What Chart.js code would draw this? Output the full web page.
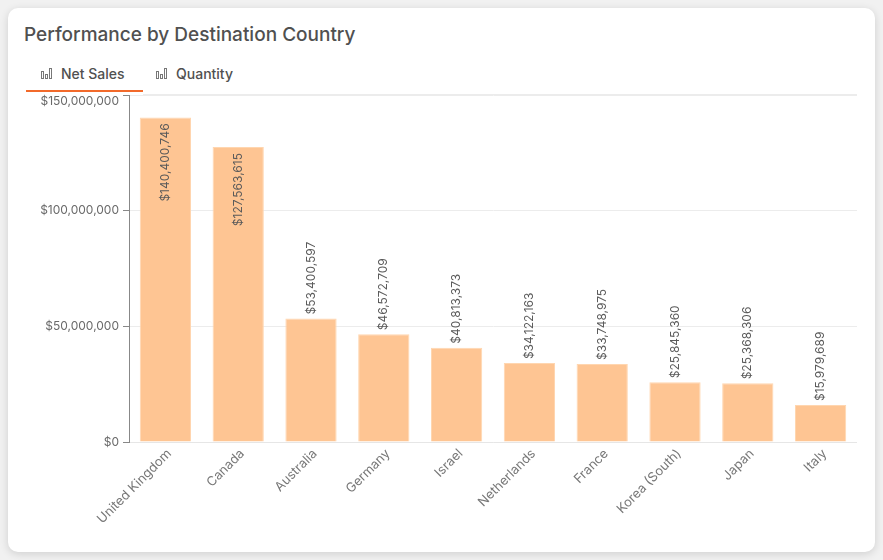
<!DOCTYPE html>
<html>
<head>
<meta charset="utf-8">
<script src="https://cdn.jsdelivr.net/npm/chart.js@4.4.0/dist/chart.umd.min.js"></script>
<style>
  body { margin: 0; background: #f1f1f1; font-family: 'Inter', 'Noto Sans', sans-serif; }
  #card {
    position: absolute; left: 8px; top: 8px; width: 867px; height: 544px;
    background: #fff; border-radius: 10px; box-shadow: 0 2px 8px rgba(0,0,0,0.14);
  }
  #title { position: absolute; left: 16px; top: 15px; font-size: 19px; font-weight: 500; color: #505050; }
  .tab { position: absolute; top: 57px; font-size: 14px; font-weight: 500; color: #505050; display: flex; align-items: center; }
  .tab svg { margin-right: 8px; }
  #tab1 { left: 33px; }
  #tab2 { left: 148px; }
  #underline { position: absolute; left: 18px; top: 82px; width: 117px; height: 2px; background: #f26a2b; }
  #sep { position: absolute; left: 135px; top: 86px; width: 714px; height: 1px; background: #ececec; }
  #wrap { position: absolute; left: 12px; top: 76px; width: 837px; height: 462px; }
</style>
</head>
<body>
<div id="card">
  <div id="title">Performance by Destination Country</div>
  <div class="tab" id="tab1"><svg width="12" height="11" viewBox="0 0 12 11"><rect x="0.5" y="3.5" width="2" height="7" fill="none" stroke="#777"/><rect x="4.5" y="6.5" width="2" height="4" fill="none" stroke="#777"/><rect x="8.5" y="0.5" width="2" height="10" fill="none" stroke="#777"/></svg>Net Sales</div>
  <div class="tab" id="tab2"><svg width="12" height="11" viewBox="0 0 12 11"><rect x="0.5" y="3.5" width="2" height="7" fill="none" stroke="#777"/><rect x="4.5" y="6.5" width="2" height="4" fill="none" stroke="#777"/><rect x="8.5" y="0.5" width="2" height="10" fill="none" stroke="#777"/></svg>Quantity</div>
  <div id="underline"></div>
  <div id="sep"></div>
  <div id="wrap"><canvas id="myChart"></canvas></div>
</div>
<script>
const countries = ['United Kingdom', 'Canada', 'Australia', 'Germany', 'Israel', 'Netherlands', 'France', 'Korea (South)', 'Japan', 'Italy'];
const netSales = [140400746, 127563615, 53400597, 46572709, 40813373, 34122163, 33748975, 25845360, 25368306, 15979689];
const yTicks = [0, 50000000, 100000000, 150000000];
const yMax = 150000000;

const money = v => '$' + v.toLocaleString('en-US');
const FONT = 'Inter, "Noto Sans", sans-serif';

// value labels, rotated, above the bar or inside when there is no room
const barLabels = {
  id: 'barLabels',
  afterDatasetsDraw(chart) {
    const ctx = chart.ctx;
    const meta = chart.getDatasetMeta(0);
    ctx.save();
    ctx.font = '12px ' + FONT;
    ctx.fillStyle = '#5a5a5a';
    ctx.textBaseline = 'middle';
    meta.data.forEach((bar, i) => {
      const txt = money(netSales[i]);
      const w = ctx.measureText(txt).width;
      ctx.save();
      if (bar.y - 4 - w < chart.chartArea.top) {
        ctx.translate(bar.x, bar.y + 6);
        ctx.rotate(-Math.PI / 2);
        ctx.textAlign = 'right';
      } else {
        ctx.translate(bar.x, bar.y - 4);
        ctx.rotate(-Math.PI / 2);
        ctx.textAlign = 'left';
      }
      ctx.fillText(txt, 0, 0);
      ctx.restore();
    });
    ctx.restore();
  },
  // the top y label sits just under its tick, kept inside the box
  afterDraw(chart) {
    const ctx = chart.ctx;
    const y = chart.scales.y;
    ctx.save();
    ctx.font = '12px ' + FONT;
    ctx.fillStyle = '#6a6a6a';
    ctx.textAlign = 'right';
    ctx.textBaseline = 'middle';
    ctx.fillText(money(yMax), y.right - 10, y.getPixelForValue(yMax) + 6);
    ctx.restore();
  }
};

let myChart = new Chart('myChart', {
  type: 'bar',
  data: {
    labels: countries,
    datasets: [{
      label: 'Net Sales',
      data: netSales,
      backgroundColor: '#fec593',
      borderColor: '#ffd6b0',
      borderWidth: 1,
      categoryPercentage: 0.8,
      barPercentage: 0.88
    }]
  },
  options: {
    responsive: true,
    maintainAspectRatio: false,
    animation: false,
    layout: { padding: { top: 7, right: 0, left: 0, bottom: 0 } },
    plugins: { legend: { display: false }, tooltip: { enabled: false } },
    scales: {
      x: {
        grid: { display: false },
        border: { color: '#e6e6e6' },
        ticks: {
          color: '#777',
          font: { size: 13, family: FONT },
          maxRotation: 45,
          minRotation: 45,
          padding: -4,
          labelOffset: 4
        },
        afterFit(scale) { scale.height = 104; }
      },
      y: {
        min: 0,
        max: yMax,
        afterBuildTicks(scale) { scale.ticks = yTicks.map(v => ({ value: v })); },
        grid: { color: '#ececec', tickColor: '#888', tickLength: 6 },
        border: { color: '#888' },
        ticks: {
          color: '#6a6a6a',
          font: { size: 12, family: FONT },
          padding: 4,
          callback: v => v === yMax ? '' : money(v)
        },
        afterFit(scale) { scale.width = 109; }
      }
    }
  },
  plugins: [barLabels]
});
</script>
</body>
</html>
